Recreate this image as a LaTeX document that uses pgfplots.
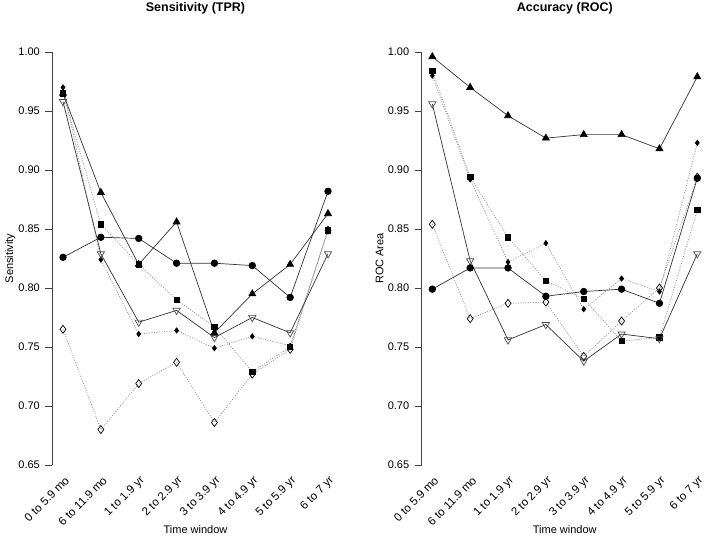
\documentclass[border=0pt]{standalone}
\usepackage{fontspec}
\setmainfont{Liberation Sans}
\usepackage{pgfplots}
\usepackage{pgfplotstable}
\pgfplotsset{compat=1.18}

% x  circ  tri  tdown  sq  sdia  odia
\pgfplotstableread{
x c t d s m o
0 0.826 0.965 0.958 0.965 0.970 0.765
1 0.843 0.881 0.829 0.854 0.824 0.680
2 0.842 0.820 0.771 0.820 0.761 0.719
3 0.821 0.856 0.781 0.790 0.764 0.737
4 0.821 0.762 0.758 0.767 0.749 0.686
5 0.819 0.795 0.775 0.729 0.759 0.727
6 0.792 0.820 0.762 0.750 0.751 0.748
7 0.882 0.863 0.829 0.849 0.849 0.849
}\sens

\pgfplotstableread{
x c t d s m o
0 0.799 0.996 0.956 0.984 0.980 0.854
1 0.817 0.970 0.823 0.894 0.892 0.774
2 0.817 0.946 0.756 0.843 0.822 0.787
3 0.793 0.927 0.769 0.806 0.838 0.788
4 0.797 0.930 0.738 0.791 0.782 0.742
5 0.799 0.930 0.761 0.755 0.808 0.772
6 0.787 0.918 0.757 0.758 0.797 0.800
7 0.893 0.979 0.829 0.866 0.923 0.894
}\roc

\pgfplotsset{
  panel/.style={
    scale only axis, width=286.2pt, height=446pt,
    anchor=south west,
    xmin=-0.28, xmax=7.28, ymin=0.636, ymax=1.014,
    axis line style={draw=none},
    font=\fontsize{11}{13}\selectfont,
    ytick={0.65,0.70,...,1.0},
    yticklabel style={/pgf/number format/fixed, /pgf/number format/fixed zerofill,
      /pgf/number format/precision=2, /pgf/number format/assume math mode=true,
      xshift=-2pt},
    ytick pos=left, tick align=outside, major tick length=7pt,
    ytick style={black!75, line width=0.6pt},
    xtick={0,...,7}, xtick style={draw=none},
    xticklabels={0 to 5.9 mo,6 to 11.9 mo,1 to 1.9 yr,2 to 2.9 yr,3 to 3.9 yr,4 to 4.9 yr,5 to 5.9 yr,6 to 7 yr},
    xticklabel style={rotate=45, anchor=east, inner sep=1pt, xshift=11pt, yshift=4pt,
      font=\fontsize{11.5}{13}\selectfont},
    title style={font=\bfseries\fontsize{12.5}{14}\selectfont, at={(axis description cs:0.5,1)}, anchor=center, yshift=21.5pt},
    xlabel style={at={(axis description cs:0.5,0)}, anchor=center, yshift=-48.5pt},
    ylabel style={at={(axis description cs:-0.1468,0.5)}, anchor=center},
    xlabel={Time window},
    clip=false,
  },
  sol/.style={draw=black!80, line width=0.7pt},
  dot/.style={draw=black!45, line width=0.7pt, dash pattern=on 1pt off 1.5pt},
  mc/.style={mark=*, mark size=3.3pt, mark options={solid, fill=black, draw=black}},
  mt/.style={mark=triangle*, mark size=4pt, mark options={solid, fill=black, draw=black}},
  md/.style={mark=triangle, mark size=4.2pt, mark options={solid, rotate=180, fill=white, draw=black!70}},
  ms/.style={mark=square*, mark size=2.7pt, mark options={solid, fill=black, draw=black}},
  mm/.style={mark=diamond*, mark size=2.6pt, mark options={solid, fill=black, draw=black}},
  mo/.style={mark=diamond, mark size=4pt, mark options={solid, fill=white, draw=black}},
}

\begin{document}
\begin{tikzpicture}
\path[use as bounding box] (0,0) rectangle (709pt,537pt);

\begin{axis}[panel, at={(52.4pt,55.5pt)}, title={Sensitivity (TPR)}, ylabel={Sensitivity}]
  \draw[black!75, line width=0.6pt] (axis cs:-0.28,0.65) -- (axis cs:-0.28,1.0);
  \addplot[dot, mo] table[x=x, y=o] {\sens};
  \addplot[dot, mm] table[x=x, y=m] {\sens};
  \addplot[dot, ms] table[x=x, y=s] {\sens};
  \addplot[sol, md] table[x=x, y=d] {\sens};
  \addplot[sol, mt] table[x=x, y=t] {\sens};
  \addplot[sol, mc] table[x=x, y=c] {\sens};
\end{axis}

\begin{axis}[panel, at={(421.7pt,55.5pt)}, title={Accuracy (ROC)}, ylabel={ROC Area}]
  \draw[black!75, line width=0.6pt] (axis cs:-0.28,0.65) -- (axis cs:-0.28,1.0);
  \addplot[dot, mo] table[x=x, y=o] {\roc};
  \addplot[dot, mm] table[x=x, y=m] {\roc};
  \addplot[dot, ms] table[x=x, y=s] {\roc};
  \addplot[sol, md] table[x=x, y=d] {\roc};
  \addplot[sol, mt] table[x=x, y=t] {\roc};
  \addplot[sol, mc] table[x=x, y=c] {\roc};
\end{axis}
\end{tikzpicture}
\end{document}
